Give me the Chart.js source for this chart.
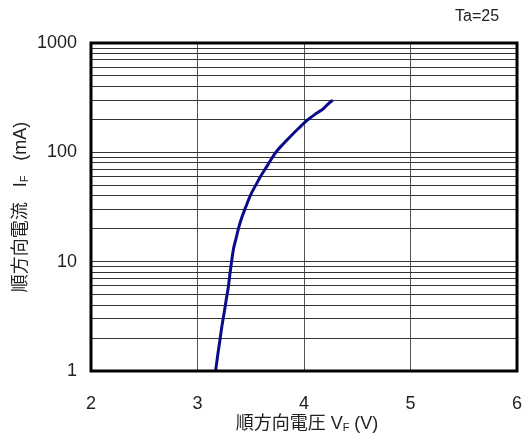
<!DOCTYPE html>
<html>
<head>
<meta charset="utf-8">
<script src="https://cdn.jsdelivr.net/npm/chart.js@4/dist/chart.umd.min.js"></script>
<style>
  html, body { margin: 0; padding: 0; background: #fff; overflow: hidden; }
  #wrap { width: 529px; height: 439px; position: relative; }
</style>
</head>
<body>
<div id="wrap"><canvas id="ivChart"></canvas></div>
<script>
// forward voltage (V) vs forward current (mA)
const vf = [3.17, 3.19, 3.21, 3.23, 3.25, 3.27, 3.29, 3.305, 3.32, 3.336, 3.36, 3.39, 3.42, 3.455, 3.50, 3.556, 3.60, 3.65, 3.728, 3.80, 3.87, 3.95, 4.04, 4.11, 4.18, 4.24, 4.27];
const ifMa = [1.0, 1.4, 1.9, 2.6, 3.4, 4.5, 5.9, 7.8, 10, 12.8, 16, 21, 26, 32, 41, 52, 62, 74, 98, 118, 139, 166, 200, 225, 250, 285, 300];

const xTicks = [2, 3, 4, 5, 6];
const yTicks = [1, 2, 3, 4, 5, 6, 7, 8, 9, 10, 20, 30, 40, 50, 60, 70, 80, 90, 100, 200, 300, 400, 500, 600, 700, 800, 900, 1000];
const yLabels = [1, 10, 100, 1000];

const LATIN = "'Liberation Sans', Arial, sans-serif";
const CJK = "'Liberation Sans', 'Noto Sans CJK JP', sans-serif";

// draws text pieces in a row, with smaller lowered pieces for subscripts
function drawPieces(ctx, pieces, cx, cy) {
    let total = 0;
    pieces.forEach(p => {
        ctx.font = p.sub ? '11px ' + CJK : '18px ' + CJK;
        p.w = ctx.measureText(p.t).width;
        total += p.w;
    });
    let x = cx - total / 2;
    pieces.forEach(p => {
        ctx.font = p.sub ? '11px ' + CJK : '18px ' + CJK;
        ctx.fillText(p.t, x, p.sub ? cy + 4 : cy);
        x += p.w;
    });
}

const decorPlugin = {
    id: 'decor',
    afterDatasetsDraw(chart) {
        const ctx = chart.ctx;
        const a = chart.chartArea;
        ctx.save();
        ctx.strokeStyle = '#000';
        ctx.lineWidth = 3;
        ctx.strokeRect(a.left, a.top, a.right - a.left, a.bottom - a.top);

        ctx.fillStyle = '#222';
        ctx.textBaseline = 'middle';
        ctx.textAlign = 'left';
        ctx.font = '16px ' + LATIN;
        ctx.fillText('Ta=25', 455, 17);

        drawPieces(ctx, [
            { t: '順方向電圧 V' }, { t: 'F', sub: true }, { t: ' (V)' }
        ], 307, 424);

        ctx.translate(21, 207);
        ctx.rotate(-Math.PI / 2);
        drawPieces(ctx, [
            { t: '順方向電流   I' }, { t: 'F', sub: true }, { t: '   (mA)' }
        ], 0, 0);
        ctx.restore();
    }
};

const points = vf.map((v, i) => ({ x: v, y: ifMa[i] }));

new Chart(document.getElementById('ivChart'), {
    type: 'line',
    data: {
        datasets: [{
            data: points,
            borderColor: '#0a0a8c',
            borderWidth: 3,
            pointRadius: 0,
            cubicInterpolationMode: 'monotone',
            fill: false
        }]
    },
    options: {
        responsive: true,
        maintainAspectRatio: false,
        animation: false,
        layout: { padding: { top: 43, right: 12, left: 0, bottom: 0 } },
        plugins: { legend: { display: false }, tooltip: { enabled: false } },
        scales: {
            x: {
                type: 'linear',
                min: 2,
                max: 6,
                afterBuildTicks: s => { s.ticks = xTicks.map(v => ({ value: v })); },
                afterFit: s => { s.height = 68; },
                grid: { color: '#555', lineWidth: 1, drawTicks: true, tickLength: 20, tickColor: 'rgba(0,0,0,0)' },
                border: { display: false },
                ticks: {
                    padding: 2,
                    color: '#222',
                    font: { size: 18, family: LATIN }
                }
            },
            y: {
                type: 'logarithmic',
                min: 1,
                max: 1000,
                afterBuildTicks: s => { s.ticks = yTicks.map(v => ({ value: v })); },
                afterFit: s => { s.width = 91; },
                grid: { color: '#333', lineWidth: 1, drawTicks: false },
                border: { display: false },
                ticks: {
                    autoSkip: false,
                    padding: 14,
                    color: '#222',
                    font: { size: 18, family: LATIN },
                    callback: v => yLabels.includes(v) ? String(v) : ''
                }
            }
        }
    },
    plugins: [decorPlugin]
});
</script>
</body>
</html>
